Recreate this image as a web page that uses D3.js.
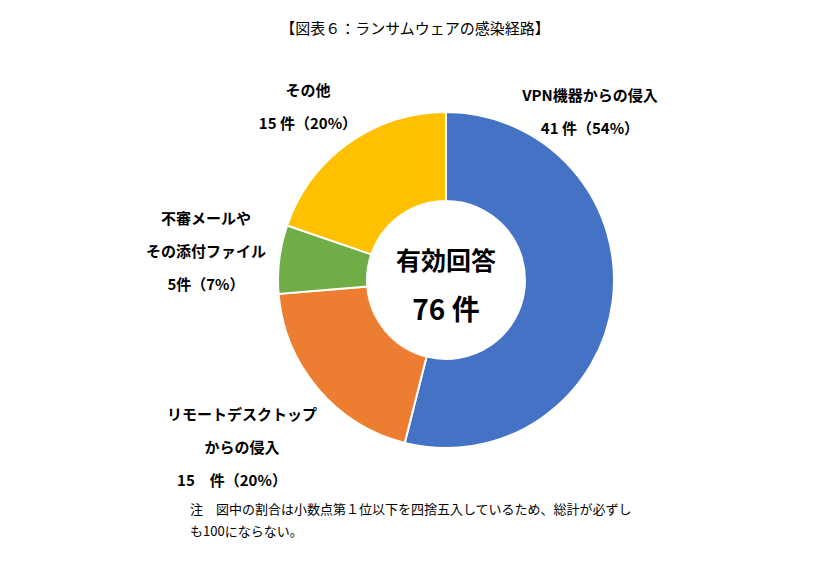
<!DOCTYPE html>
<html><head><meta charset="utf-8">
<script src="https://cdn.jsdelivr.net/npm/d3@7"></script>
<style>body{margin:0;background:#fff}</style>
</head><body>
<div id="chart"></div>
<script>
// data
var categories = ["VPN機器からの侵入", "リモートデスクトップからの侵入", "不審メールやその添付ファイル", "その他"];
var counts = [41, 15, 5, 15];
var colors = ["#4472C4", "#ED7D31", "#70AD47", "#FFC000"];
var labelLines = [
  ["VPN機器からの侵入", "41 件（54%）"],
  ["リモートデスクトップ", "からの侵入", "15　件（20%）"],
  ["不審メールや", "その添付ファイル", "5件（7%）"],
  ["その他", "15 件（20%）"]
];
var total = d3.sum(counts);

var width = 831, height = 573;
var cx = 446, cy = 280;
var svg = d3.select("#chart").append("svg").attr("width", width).attr("height", height);
var sans = "'Noto Sans CJK JP', sans-serif";

svg.append("text").attr("x", 415).attr("y", 34).attr("text-anchor", "middle")
  .attr("font-family", sans).attr("font-size", 15).text("【図表６：ランサムウェアの感染経路】");

var pie = d3.pie().sort(null).value(d => d);
var arc = d3.arc().innerRadius(79).outerRadius(168);
var g = svg.append("g").attr("transform", `translate(${cx},${cy})`);
g.selectAll("path").data(pie(counts)).enter().append("path")
  .attr("d", arc).attr("fill", (d, i) => colors[i])
  .attr("stroke", "#fff").attr("stroke-width", 2);

g.append("text").attr("y", -10).attr("text-anchor", "middle").attr("font-family", sans)
  .attr("font-weight", "bold").attr("font-size", 25).text("有効回答");
g.append("text").attr("y", 40).attr("text-anchor", "middle").attr("font-family", sans)
  .attr("font-weight", "bold").attr("font-size", 28).text(total + " 件");

// label anchor positions (center x, first baseline y)
var labelPos = [[590, 101], [242, 420], [206, 224], [308, 96]];
labelLines.forEach(function (lines, i) {
  var t = svg.append("text").attr("font-family", sans).attr("font-weight", "bold")
    .attr("font-size", 15).attr("text-anchor", "middle");
  lines.forEach(function (l, j) {
    t.append("tspan").attr("x", labelPos[i][0] + (i === 1 && j === 2 ? -10 : 0))
      .attr("y", labelPos[i][1] + j * 33).text(l);
  });
});

var note = svg.append("text").attr("font-family", sans).attr("font-size", 13);
note.append("tspan").attr("x", 190).attr("y", 514).text("注　図中の割合は小数点第１位以下を四捨五入しているため、総計が必ずし");
note.append("tspan").attr("x", 190).attr("y", 536).text("も100にならない。");
</script>
</body></html>
